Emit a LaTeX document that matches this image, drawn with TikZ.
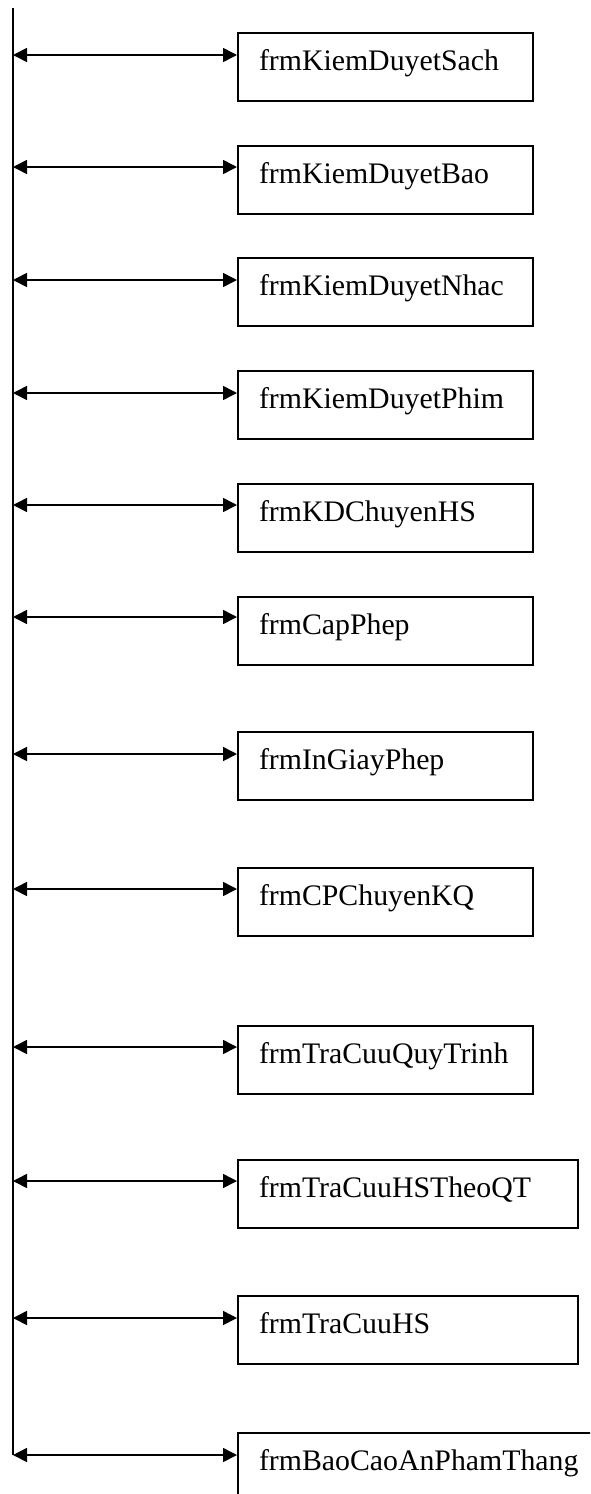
\documentclass[tikz,border=0pt]{standalone}
\usepackage{fontspec}
\setmainfont{Liberation Serif}
\usetikzlibrary{arrows.meta}
\begin{document}
\begin{tikzpicture}[x=0.5pt, y=-0.5pt]
        \tikzstyle{frm_box}   = [shape = rectangle, draw = black, line width = 1pt, anchor = north west,
                                 minimum width = 147.5pt, minimum height = 33.8pt, inner xsep = 10.5pt,
                                 text width = 126.5pt, text height = 9pt, text depth = 5pt, align = left,
                                 font = \fontsize{14.9}{17}\selectfont]
        \tikzstyle{frm_wide}  = [frm_box, minimum width = 170pt, text width = 149pt]
        \tikzstyle{frm_arrow} = [{Triangle[length=7pt, width=7pt]}-{Triangle[length=7pt, width=7pt]}, line width = 0.8pt]

        \useasboundingbox (0,0) rectangle (590,1494);
        \clip (0,0) rectangle (590,1494);

        % the spine on the left
        \coordinate (top) at (13,    8);
        \coordinate (bot) at (13, 1455);
        \draw[line width = 1pt] (top) -- (bot);

        % the forms
        \node[frm_box]  at (237,   32) (b1)  {frmKiemDuyetSach};
        \node[frm_box]  at (237,  145) (b2)  {frmKiemDuyetBao};
        \node[frm_box]  at (237,  257) (b3)  {frmKiemDuyetNhac};
        \node[frm_box]  at (237,  370) (b4)  {frmKiemDuyetPhim};
        \node[frm_box]  at (237,  483) (b5)  {frmKDChuyenHS};
        \node[frm_box]  at (237,  596) (b6)  {frmCapPhep};
        \node[frm_box]  at (237,  731) (b7)  {frmInGiayPhep};
        \node[frm_box]  at (237,  867) (b8)  {frmCPChuyenKQ};
        \node[frm_box]  at (237, 1025) (b9)  {frmTraCuuQuyTrinh};
        \node[frm_wide] at (237, 1159) (b10) {frmTraCuuHSTheoQT};
        \node[frm_wide] at (237, 1295) (b11) {frmTraCuuHS};
        \node[frm_box, minimum width = 185pt, text width = 164pt]
                        at (237, 1432) (b12) {frmBaoCaoAnPhamThang};

        % where the arrows leave the spine
        \coordinate (s1)  at (13,   55);
        \coordinate (s2)  at (13,  167);
        \coordinate (s3)  at (13,  280);
        \coordinate (s4)  at (13,  393);
        \coordinate (s5)  at (13,  505);
        \coordinate (s6)  at (13,  617);
        \coordinate (s7)  at (13,  754);
        \coordinate (s8)  at (13,  889);
        \coordinate (s9)  at (13, 1047);
        \coordinate (s10) at (13, 1181);
        \coordinate (s11) at (13, 1318);
        \coordinate (s12) at (13, 1455);

        \path[frm_arrow]
          (s1)  edge (s1  -| b1.west)
          (s2)  edge (s2  -| b2.west)
          (s3)  edge (s3  -| b3.west)
          (s4)  edge (s4  -| b4.west)
          (s5)  edge (s5  -| b5.west)
          (s6)  edge (s6  -| b6.west)
          (s7)  edge (s7  -| b7.west)
          (s8)  edge (s8  -| b8.west)
          (s9)  edge (s9  -| b9.west)
          (s10) edge (s10 -| b10.west)
          (s11) edge (s11 -| b11.west)
          (s12) edge (s12 -| b12.west)
        ;
\end{tikzpicture}
\end{document}
